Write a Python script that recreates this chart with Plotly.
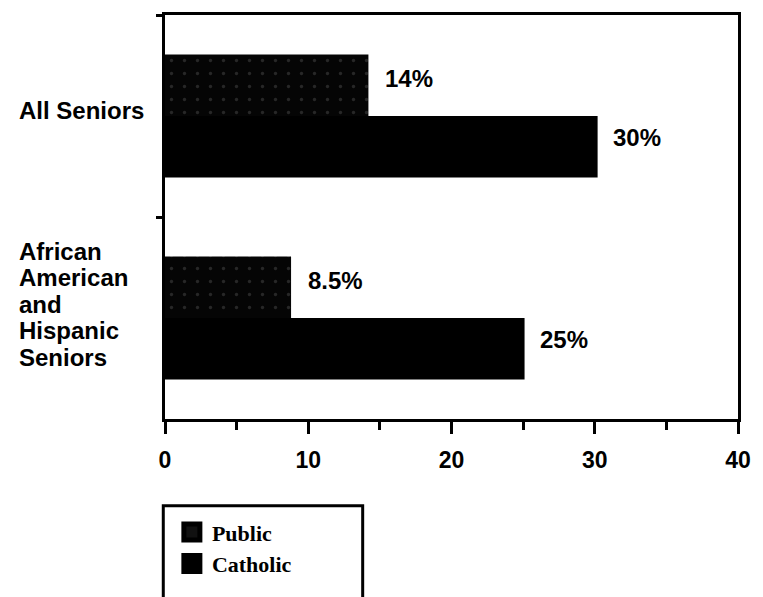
import plotly.graph_objects as go

categories = ["All Seniors", "African American and Hispanic Seniors"]
cat_label_lines = [["All Seniors"], ["African", "American", "and", "Hispanic", "Seniors"]]
public_vals = [14.2, 8.8]
catholic_vals = [30.2, 25.1]
public_text = ["14%", "8.5%"]
catholic_text = ["30%", "25%"]
x_ticks = [0, 10, 20, 30, 40]

SANS = "Liberation Sans"
fig = go.Figure()
fig.add_trace(go.Bar(
    name="Public", y=categories, x=public_vals, orientation="h", showlegend=False,
    marker=dict(color="#050505", line=dict(width=0),
                pattern=dict(shape=".", fgcolor="#4a4a4a", bgcolor="#050505", size=13, solidity=0.05)),
))
fig.add_trace(go.Bar(
    name="Catholic", y=categories, x=catholic_vals, orientation="h", showlegend=False,
    marker=dict(color="black", line=dict(width=0)),
))
# legend entries (larger square symbols)
for nm, col in [("Public", "#111"), ("Catholic", "black")]:
    fig.add_trace(go.Scatter(name=nm, x=[None], y=[None], mode="markers",
                             marker=dict(symbol="square", size=16, color=col,
                                         line=dict(color="black", width=5))))

# value labels
for cat, v, t in zip(categories, public_vals, public_text):
    fig.add_annotation(x=v, y=cat, xref="x", yref="y", text=t, showarrow=False,
                       xanchor="left", xshift=15, yshift=38,
                       font=dict(family=SANS, size=24, color="black", weight="bold"))
for cat, v, t in zip(categories, catholic_vals, catholic_text):
    fig.add_annotation(x=v, y=cat, xref="x", yref="y", text=t, showarrow=False,
                       xanchor="left", xshift=13, yshift=-21,
                       font=dict(family=SANS, size=24, color="black", weight="bold"))

# category labels (left aligned, tight line spacing)
label_lift = [6, 14]
line_step = 26.5
for cat, lines, lift in zip(categories, cat_label_lines, label_lift):
    n = len(lines)
    for i, ln in enumerate(lines):
        fig.add_annotation(x=-0.258, xref="paper", y=cat, yref="y", text=ln,
                           showarrow=False, xanchor="left", align="left",
                           yshift=lift + ((n - 1) / 2 - i) * line_step,
                           font=dict(family=SANS, size=24, color="black", weight="bold"))

# legend frame (extends below the page edge as in the reference)
fig.add_shape(type="rect", xref="paper", yref="paper", x0=-0.003, x1=0.345,
              y0=-0.48, y1=-0.215, line=dict(color="black", width=3), fillcolor="rgba(0,0,0,0)")

fig.update_layout(
    width=763, height=597,
    margin=dict(l=165, r=16, t=15, b=174),
    paper_bgcolor="white", plot_bgcolor="white",
    barmode="group", bargap=0.39, bargroupgap=0,
    font=dict(family=SANS, color="black"),
    showlegend=True,
    legend=dict(x=0.012, y=-0.228, xanchor="left", yanchor="top",
                borderwidth=0, bgcolor="rgba(0,0,0,0)",
                font=dict(family="Liberation Serif", size=22, color="black", weight="bold"),
                traceorder="normal", itemsizing="trace"),
)
fig.update_xaxes(range=[0, 40], tickvals=x_ticks, ticks="outside", ticklen=12, tickwidth=3,
                 tickcolor="black", showline=True, linecolor="black", linewidth=3, mirror=True,
                 showgrid=False, zeroline=False, ticklabelstandoff=6,
                 tickfont=dict(family=SANS, size=23, color="black", weight="bold"),
                 minor=dict(dtick=5, ticks="outside", ticklen=8, tickwidth=3, tickcolor="black"))
fig.update_yaxes(categoryorder="array", categoryarray=categories, range=[1.5, -0.5],
                 showticklabels=False, ticks="outside", tickson="boundaries", ticklen=6, tickwidth=3,
                 tickcolor="black", showline=True, linecolor="black", linewidth=3, mirror=True,
                 showgrid=False, zeroline=False)

fig.write_html("out.html")
